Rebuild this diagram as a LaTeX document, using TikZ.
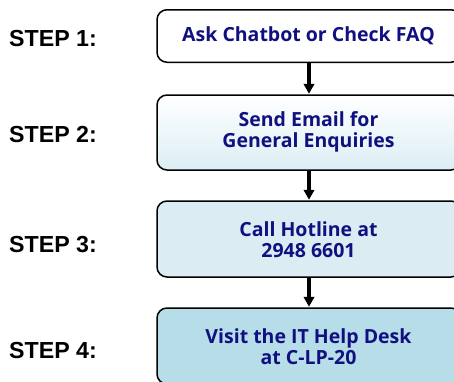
\documentclass[tikz,border=0pt]{standalone}
\usepackage{fontspec}
\usetikzlibrary{arrows.meta}
\setmainfont{Open Sans}
\newfontfamily\stepfont{Liberation Sans}
\definecolor{navytext}{RGB}{16,16,128}
\definecolor{blueA}{RGB}{220,238,244}
\definecolor{blueB}{RGB}{219,237,243}
\definecolor{blueC}{RGB}{183,221,232}
\begin{document}
\begin{tikzpicture}[x=1pt,y=-1pt,
  box/.style={draw=black, line width=1.5pt, rounded corners=10pt, minimum width=304pt, inner sep=0pt},
  boxtext/.style={text=navytext, font=\fontsize{19.5}{21}\selectfont\bfseries, align=center},
  steplabel/.style={font=\stepfont\fontsize{23.2}{26}\selectfont\bfseries, anchor=west, inner sep=0pt},
  flow/.style={line width=3.8pt, -{Triangle[length=10pt,width=10.5pt]}, shorten >=0.5pt}]
\useasboundingbox (0,0) rectangle (454,381);
\fill[white] (0,0) rectangle (454,381);
\begin{scope}
\clip (0,0) rectangle (454,381);
\node[box, fill=white, minimum height=52.5pt] (b1) at (309,36) {};
\node[box, top color=white, bottom color=blueA, minimum height=75pt] (b2) at (309,132.5) {};
\node[box, fill=blueB, minimum height=76pt] (b3) at (309,239) {};
\node[box, fill=blueC, minimum height=76pt] (b4) at (309,346) {};
\end{scope}
\node[boxtext] (t1) at (308.5,36) {Ask Chatbot or Check FAQ};
\node[boxtext] (t2) at (308.5,132) {Send Email for\\General Enquiries};
\node[boxtext] (t3) at (308.5,239.5) {Call Hotline at\\2948 6601};
\node[boxtext] (t4) at (308.5,346.5) {Visit the IT Help Desk\\at C-LP-20};
\node[steplabel] (s1) at (9,38.5) {STEP 1:};
\node[steplabel] (s2) at (9,134.5) {STEP 2:};
\node[steplabel] (s3) at (9,245) {STEP 3:};
\node[steplabel] (s4) at (9,351) {STEP 4:};
\draw[flow] (b1.south) -- (b2.north);
\draw[flow] (b2.south) -- (b3.north);
\draw[flow] (b3.south) -- (b4.north);
\end{tikzpicture}
\end{document}
